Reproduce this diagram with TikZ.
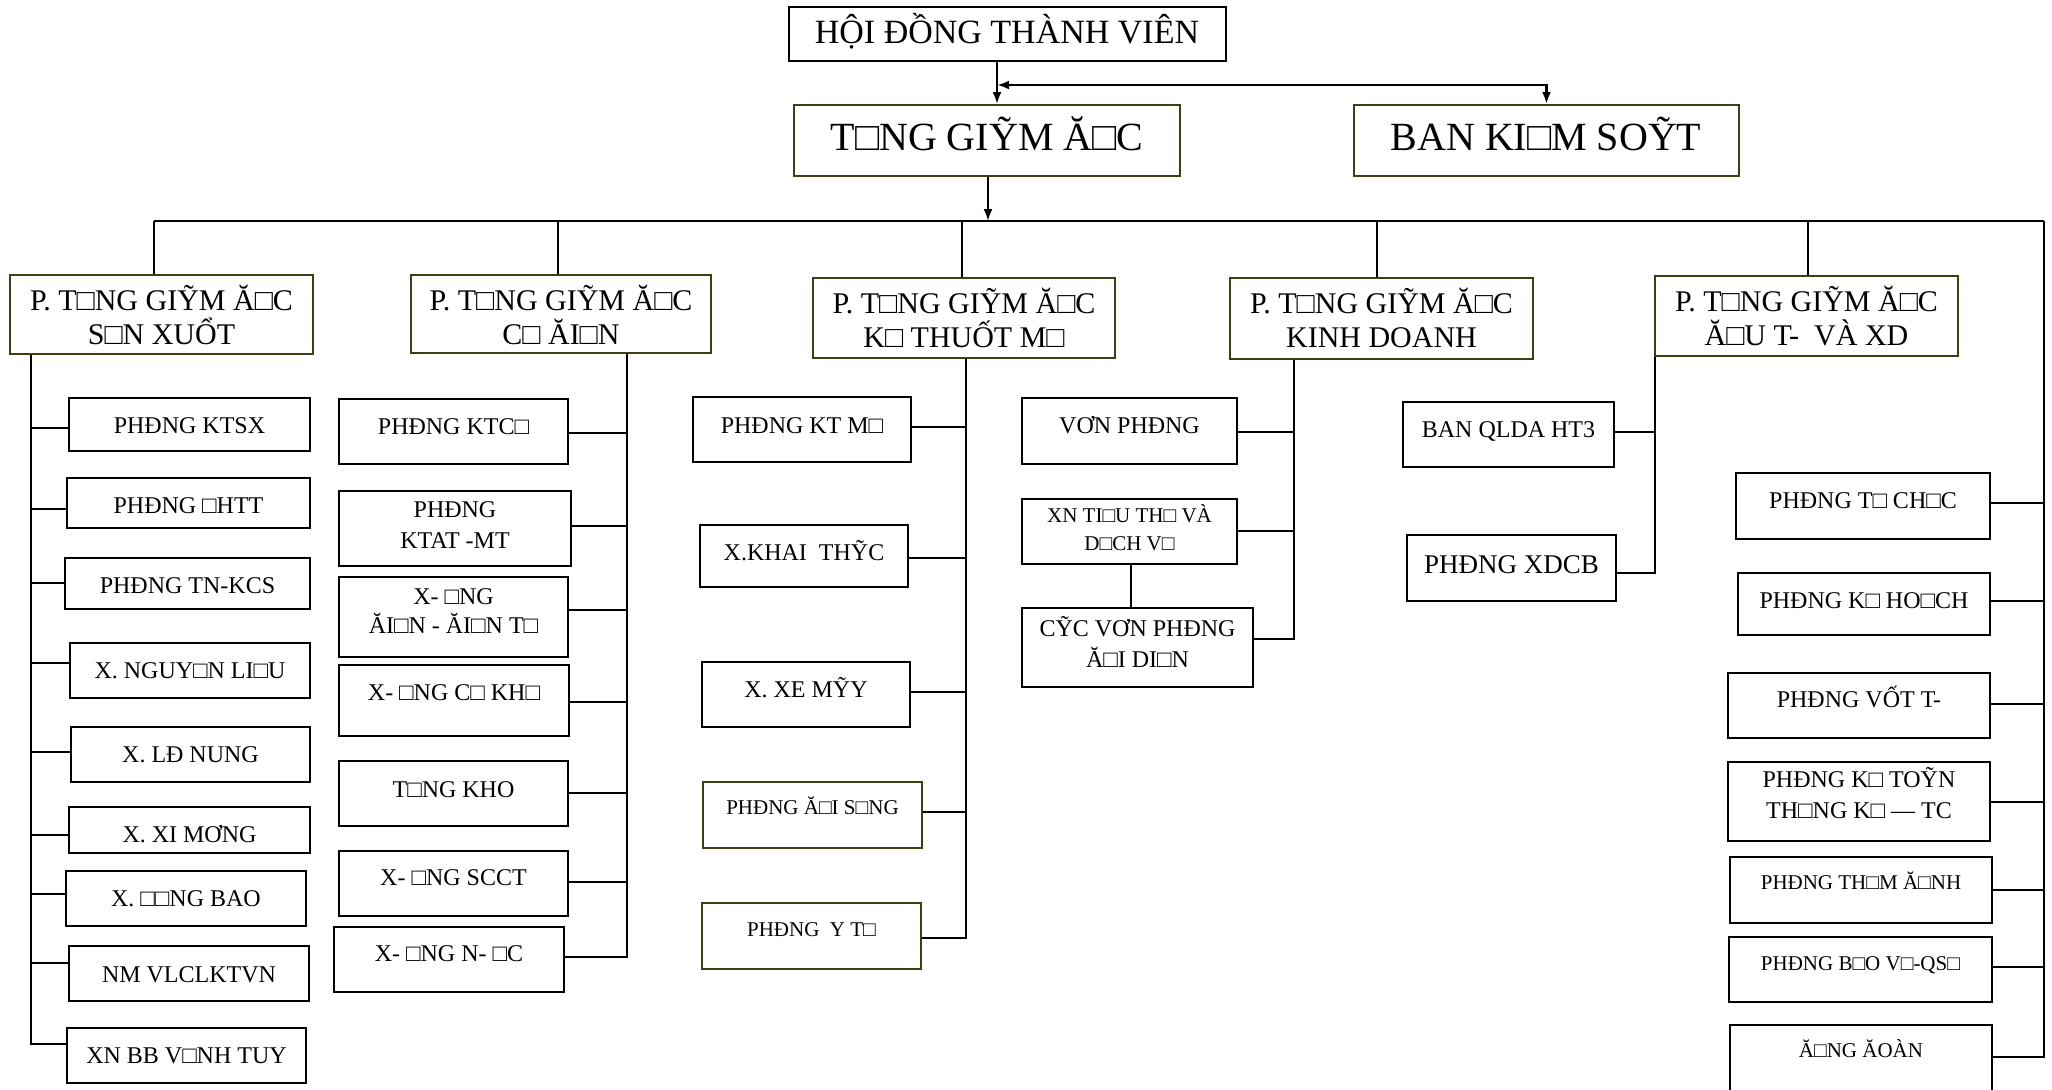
\documentclass[tikz,border=0pt]{standalone}
\usepackage{fontspec}
\setmainfont{Liberation Serif}
\usetikzlibrary{fit,arrows.meta}
\definecolor{oliveb}{RGB}{62,62,18}
\newcommand\fA{\fontsize{17}{20}\selectfont}
\newcommand\fT{\fontsize{20}{23}\selectfont}
\newcommand\fP{\fontsize{15}{17}\selectfont}
\newcommand\fS{\fontsize{12}{15.5}\selectfont}
\newcommand\fSS{\fontsize{12}{14.5}\selectfont}
\newcommand\fX{\fontsize{10.5}{14}\selectfont}
\newcommand\fD{\fontsize{13.5}{16}\selectfont}
\begin{document}
\begin{tikzpicture}[x=0.5pt,y=-0.5pt,
  boxk/.style={draw=black,line width=1pt,inner sep=0pt,rectangle},
  boxo/.style={draw=oliveb,line width=1pt,inner sep=0pt,rectangle},
  t/.style={inner sep=0pt,anchor=base,align=center},
  tc/.style={inner sep=0pt,anchor=center,align=center},
  ln/.style={line width=1pt},
  thin ln/.style={line width=0.6pt},
  arr/.style={line width=1pt,-{Latex[length=6pt,width=4.5pt]}},
  darr/.style={line width=1.3pt,{Latex[length=6pt,width=4.5pt]}-{Latex[length=6pt,width=4.5pt]}}]
\useasboundingbox (0,0) rectangle (2052,1089);
% ---------- top ----------
\node[boxk,fit={(789,7) (1226,61)}] (hdtv) {};
\node[t,font=\fA] (hdtvT) at (1007,43) {HỘI ĐỒNG THÀNH VIÊN};
\node[boxo,fit={(794,105) (1180,176)}] (tgd) {};
\node[t,font=\fT] (tgdT) at (987,150) {T□NG GIỸM Ă□C};
\node[boxo,fit={(1354,105) (1739,176)}] (bks) {};
\node[t,font=\fT] (bksT) at (1546,150) {BAN KI□M SOỸT};
\coordinate (j) at (997,85);
\draw[arr] (j |- hdtv.south) -- (j |- tgd.north);
\draw[darr] (j) -- (j -| bks.north) -- (bks.north);
\coordinate (bus0) at (988,221);
\coordinate (busL) at (154,221);
\coordinate (busR) at (2044,221);
\draw[arr] (bus0 |- tgd.south) -- (bus0);
\draw[ln] (busL) -- (busR);
% ---------- deputy directors ----------
\node[boxo,fit={(10,275) (313,354)}] (p1) {};
\node[tc,font=\fP] (p1T) at (161.5,315) {P. T□NG GIỸM Ă□C\\S□N XUỔT};
\node[boxo,fit={(411,275) (711,353)}] (p2) {};
\node[tc,font=\fP] (p2T) at (561,315) {P. T□NG GIỸM Ă□C\\C□ ĂI□N};
\node[boxo,fit={(813,278) (1115,358)}] (p3) {};
\node[tc,font=\fP] (p3T) at (964,318) {P. T□NG GIỸM Ă□C\\K□ THUỐT M□};
\node[boxo,fit={(1230,278) (1533,359)}] (p4) {};
\node[tc,font=\fP] (p4T) at (1381.5,318) {P. T□NG GIỸM Ă□C\\KINH DOANH};
\node[boxo,fit={(1655,276) (1958,356)}] (p5) {};
\node[tc,font=\fP] (p5T) at (1806.5,316) {P. T□NG GIỸM Ă□C\\Ă□U T-\ \ VÀ XD};
\coordinate (b1) at (154,221);
\coordinate (b2) at (558,221);
\coordinate (b3) at (962,221);
\coordinate (b4) at (1377,221);
\coordinate (b5) at (1808,221);
\draw[ln] (b1) -- (b1 |- p1.north);
\draw[ln] (b2) -- (b2 |- p2.north);
\draw[ln] (b3) -- (b3 |- p3.north);
\draw[ln] (b4) -- (b4 |- p4.north);
\draw[ln] (b5) -- (b5 |- p5.north);
% ---------- column 1 ----------
\coordinate (k1) at (31,354);
\node[boxk,fit={(69,398) (310,451)}] (s1) {};
\node[t,font=\fS] (s1T) at (189.5,433) {PHĐNG KTSX};
\node[boxk,fit={(67,478) (310,528)}] (s2) {};
\node[t,font=\fS] (s2T) at (188.5,513) {PHĐNG □HTT};
\node[boxk,fit={(65,558) (310,609)}] (s3) {};
\node[t,font=\fS] (s3T) at (187.5,593) {PHĐNG TN-KCS};
\node[boxk,fit={(70,643) (310,698)}] (s4) {};
\node[t,font=\fS] (s4T) at (190,678) {X. NGUY□N LI□U};
\node[boxk,fit={(71,727) (310,782)}] (s5) {};
\node[t,font=\fS] (s5T) at (190.5,762) {X. LĐ NUNG};
\node[boxk,fit={(69,807) (310,853)}] (s6) {};
\node[t,font=\fS] (s6T) at (189.5,842) {X. XI MƠNG};
\node[boxk,fit={(66,871) (306,926)}] (s7) {};
\node[t,font=\fS] (s7T) at (186,906) {X. □□NG BAO};
\node[boxk,fit={(69,946) (309,1001)}] (s8) {};
\node[t,font=\fS] (s8T) at (189,982) {NM VLCLKTVN};
\node[boxk,fit={(67,1028) (306,1083)}] (s9) {};
\node[t,font=\fS] (s9T) at (186.5,1063) {XN BB V□NH TUY};
\coordinate (k1a) at (31,428);
\coordinate (k1b) at (31,509);
\coordinate (k1c) at (31,583);
\coordinate (k1d) at (31,663);
\coordinate (k1e) at (31,752);
\coordinate (k1f) at (31,835);
\coordinate (k1g) at (31,894);
\coordinate (k1h) at (31,963);
\coordinate (k1i) at (31,1044);
\draw[ln] (k1 |- p1.south) -- (k1i) -- (k1i -| s9.west);
\draw[ln] (k1a) -- (k1a -| s1.west);
\draw[ln] (k1b) -- (k1b -| s2.west);
\draw[ln] (k1c) -- (k1c -| s3.west);
\draw[ln] (k1d) -- (k1d -| s4.west);
\draw[ln] (k1e) -- (k1e -| s5.west);
\draw[ln] (k1f) -- (k1f -| s6.west);
\draw[ln] (k1g) -- (k1g -| s7.west);
\draw[ln] (k1h) -- (k1h -| s8.west);
% ---------- column 2 ----------
\node[boxk,fit={(339,399) (568,464)}] (c1) {};
\node[t,font=\fS] (c1T) at (453.5,434) {PHĐNG KTC□};
\node[boxk,fit={(339,491) (571,566)}] (c2) {};
\node[tc,font=\fS] (c2T) at (455,525.5) {PHĐNG\\KTAT -MT};
\node[boxk,fit={(339,577) (568,657)}] (c3) {};
\node[tc,font=\fSS] (c3T) at (453.5,611) {X- □NG\\ĂI□N - ĂI□N T□};
\node[boxk,fit={(339,665) (569,736)}] (c4) {};
\node[t,font=\fS] (c4T) at (454,700) {X- □NG C□ KH□};
\node[boxk,fit={(339,761) (568,826)}] (c5) {};
\node[t,font=\fS] (c5T) at (453.5,797) {T□NG KHO};
\node[boxk,fit={(339,851) (568,916)}] (c6) {};
\node[t,font=\fS] (c6T) at (453.5,885) {X- □NG SCCT};
\node[boxk,fit={(334,927) (564,992)}] (c7) {};
\node[t,font=\fS] (c7T) at (449,961) {X- □NG N- □C};
\coordinate (k2) at (627,353);
\coordinate (k2a) at (627,433);
\coordinate (k2b) at (627,526);
\coordinate (k2c) at (627,610);
\coordinate (k2d) at (627,702);
\coordinate (k2e) at (627,793);
\coordinate (k2f) at (627,882);
\coordinate (k2g) at (627,957);
\draw[ln] (k2 |- p2.south) -- (k2g) -- (k2g -| c7.east);
\draw[ln] (k2a) -- (k2a -| c1.east);
\draw[ln] (k2b) -- (k2b -| c2.east);
\draw[ln] (k2c) -- (k2c -| c3.east);
\draw[ln] (k2d) -- (k2d -| c4.east);
\draw[ln] (k2e) -- (k2e -| c5.east);
\draw[ln] (k2f) -- (k2f -| c6.east);
% ---------- column 3 ----------
\node[boxk,fit={(693,397) (911,462)}] (m1) {};
\node[t,font=\fS] (m1T) at (802,433) {PHĐNG KT M□};
\node[boxk,fit={(700,525) (908,587)}] (m2) {};
\node[t,font=\fS] (m2T) at (804,560) {X.KHAI\ \ THỸC};
\node[boxk,fit={(702,662) (910,727)}] (m3) {};
\node[t,font=\fS] (m3T) at (806,697) {X. XE MỸY};
\node[boxo,fit={(703,782) (922,848)}] (m4) {};
\node[t,font=\fX] (m4T) at (812.5,814) {PHĐNG Ă□I S□NG};
\node[boxo,fit={(702,903) (921,969)}] (m5) {};
\node[t,font=\fX] (m5T) at (811.5,936) {PHĐNG\ \ Y T□};
\coordinate (k3) at (966,358);
\coordinate (k3a) at (966,427);
\coordinate (k3b) at (966,558);
\coordinate (k3c) at (966,692);
\coordinate (k3d) at (966,812);
\coordinate (k3e) at (966,938);
\draw[ln] (k3 |- p3.south) -- (k3e) -- (k3e -| m5.east);
\draw[ln] (k3a) -- (k3a -| m1.east);
\draw[ln] (k3b) -- (k3b -| m2.east);
\draw[ln] (k3c) -- (k3c -| m3.east);
\draw[ln] (k3d) -- (k3d -| m4.east);
% ---------- column 4 ----------
\node[boxk,fit={(1022,398) (1237,464)}] (v1) {};
\node[t,font=\fS] (v1T) at (1129.5,433) {VƠN PHĐNG};
\node[boxk,fit={(1022,499) (1237,564)}] (v2) {};
\node[tc,font=\fX] (v2T) at (1129.5,527.5) {XN TI□U TH□ VÀ\\D□CH V□};
\node[boxk,fit={(1022,608) (1253,687)}] (v3) {};
\node[tc,font=\fS] (v3T) at (1137.5,641.5) {CỸC VƠN PHĐNG\\Ă□I DI□N};
\coordinate (k4) at (1294,359);
\coordinate (k4a) at (1294,432);
\coordinate (k4b) at (1294,531);
\coordinate (k4c) at (1294,639);
\draw[ln] (k4 |- p4.south) -- (k4c) -- (k4c -| v3.east);
\draw[ln] (k4a) -- (k4a -| v1.east);
\draw[ln] (k4b) -- (k4b -| v2.east);
\coordinate (kv) at (1131,564);
\draw[thin ln] (kv |- v2.south) -- (kv |- v3.north);
% ---------- column 5 ----------
\node[boxk,fit={(1403,402) (1614,467)}] (d1) {};
\node[t,font=\fS] (d1T) at (1508.5,437) {BAN QLDA HT3};
\node[boxk,fit={(1407,535) (1616,601)}] (d2) {};
\node[t,font=\fD] (d2T) at (1511.5,573) {PHĐNG XDCB};
\coordinate (k5) at (1655,356);
\coordinate (k5a) at (1655,432);
\coordinate (k5b) at (1655,573);
\draw[ln] (k5 |- p5.south) -- (k5b) -- (k5b -| d2.east);
\draw[ln] (k5a) -- (k5a -| d1.east);
% ---------- right column ----------
\node[boxk,fit={(1736,473) (1990,539)}] (r1) {};
\node[t,font=\fS] (r1T) at (1863,508) {PHĐNG T□ CH□C};
\node[boxk,fit={(1738,573) (1990,635)}] (r2) {};
\node[t,font=\fS] (r2T) at (1864,608) {PHĐNG K□ HO□CH};
\node[boxk,fit={(1728,673) (1990,738)}] (r3) {};
\node[t,font=\fS] (r3T) at (1859,707) {PHĐNG VỐT T-};
\node[boxk,fit={(1728,762) (1990,841)}] (r4) {};
\node[tc,font=\fS] (r4T) at (1859,793) {PHĐNG K□ TOỸN\\TH□NG K□ — TC};
\node[boxk,fit={(1730,857) (1992,923)}] (r5) {};
\node[t,font=\fX] (r5T) at (1861,889) {PHĐNG TH□M Ă□NH};
\node[boxk,fit={(1729,937) (1992,1002)}] (r6) {};
\node[t,font=\fX] (r6T) at (1860.5,970) {PHĐNG B□O V□-QS□};
\node[boxk,fit={(1730,1025) (1992,1110)}] (r7) {};
\node[t,font=\fX] (r7T) at (1861,1057) {Ă□NG ĂOÀN};
\coordinate (kra) at (2044,503);
\coordinate (krb) at (2044,601);
\coordinate (krc) at (2044,704);
\coordinate (krd) at (2044,802);
\coordinate (kre) at (2044,890);
\coordinate (krf) at (2044,967);
\coordinate (krg) at (2044,1057);
\draw[ln] (busR) -- (krg) -- (krg -| r7.east);
\draw[ln] (kra) -- (kra -| r1.east);
\draw[ln] (krb) -- (krb -| r2.east);
\draw[ln] (krc) -- (krc -| r3.east);
\draw[ln] (krd) -- (krd -| r4.east);
\draw[ln] (kre) -- (kre -| r5.east);
\draw[ln] (krf) -- (krf -| r6.east);
\end{tikzpicture}
\end{document}
